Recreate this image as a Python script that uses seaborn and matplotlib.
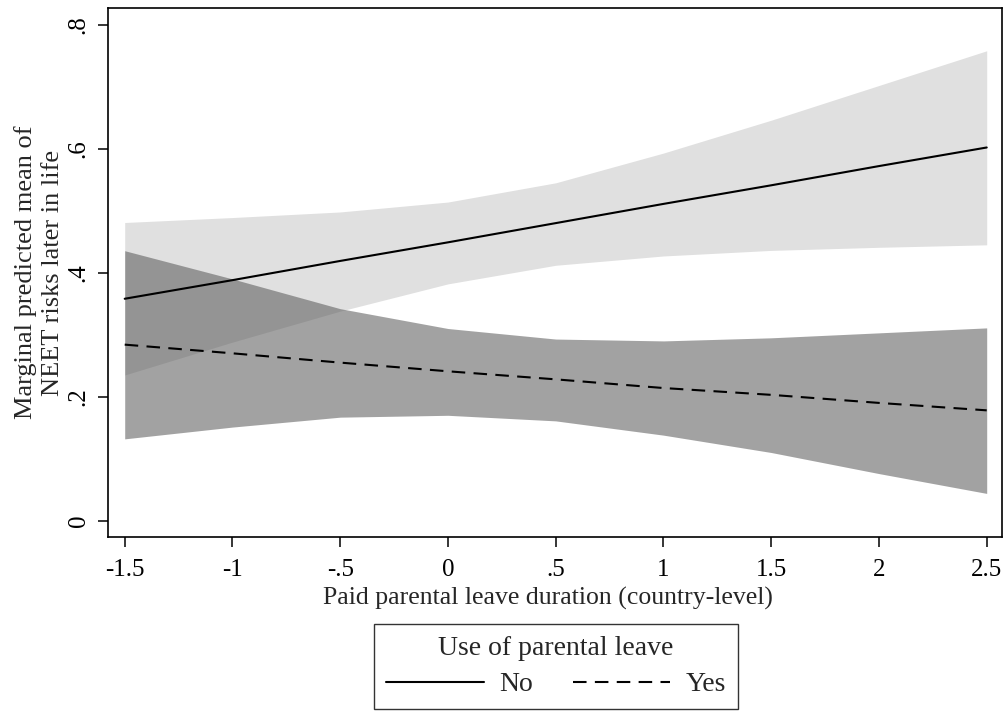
import numpy as np
import pandas as pd
import matplotlib
matplotlib.use("Agg")
import matplotlib.pyplot as plt
import seaborn as sns
from matplotlib.lines import Line2D

# ---- data ----
x_vals = [-1.5, -1.0, -0.5, 0.0, 0.5, 1.0, 1.5, 2.0, 2.5]
no_mean = [0.358, 0.388, 0.419, 0.449, 0.480, 0.511, 0.541, 0.572, 0.602]
no_lo = [0.235, 0.288, 0.338, 0.382, 0.412, 0.427, 0.436, 0.441, 0.445]
no_hi = [0.481, 0.489, 0.498, 0.514, 0.545, 0.593, 0.646, 0.702, 0.758]
yes_mean = [0.284, 0.270, 0.255, 0.241, 0.228, 0.214, 0.203, 0.190, 0.178]
yes_lo = [0.132, 0.151, 0.167, 0.170, 0.161, 0.138, 0.110, 0.076, 0.044]
yes_hi = [0.4355, 0.390, 0.342, 0.310, 0.293, 0.290, 0.295, 0.303, 0.311]
group_labels = ["No", "Yes"]
x_ticks = [-1.5, -1.0, -0.5, 0.0, 0.5, 1.0, 1.5, 2.0, 2.5]
x_ticklabels = ["-1.5", "-1", "-.5", "0", ".5", "1", "1.5", "2", "2.5"]
y_ticks = [0.0, 0.2, 0.4, 0.6, 0.8]
y_ticklabels = ["0", ".2", ".4", ".6", ".8"]
x_title = "Paid parental leave duration (country-level)"
y_title = "Marginal predicted mean of\nNEET risks later in life"
legend_title = "Use of parental leave"

df = pd.DataFrame({
    "x": x_vals * 2,
    "mean": no_mean + yes_mean,
    "lo": no_lo + yes_lo,
    "hi": no_hi + yes_hi,
    "group": [group_labels[0]] * len(x_vals) + [group_labels[1]] * len(x_vals),
})

sns.set_theme(style="ticks")
plt.rcParams["font.family"] = ["Liberation Serif", "DejaVu Serif"]
plt.rcParams["axes.edgecolor"] = "black"
plt.rcParams["axes.linewidth"] = 1.2

W, H = 1006, 713
fig = plt.figure(figsize=(W / 100, H / 100), dpi=100)
ax = fig.add_axes([108 / W, 1 - 537 / H, (1002 - 108) / W, (537 - 8) / H])

# bands
d_no = df[df.group == "No"]
d_yes = df[df.group == "Yes"]
ax.fill_between(d_no.x, d_no.lo, d_no.hi, color="#e0e0e0", lw=0, zorder=1)
ax.fill_between(d_yes.x, d_yes.lo, d_yes.hi, color="#575757", alpha=0.55, lw=0, zorder=2)

# lines
sns.lineplot(data=df, x="x", y="mean", hue="group", style="group",
             palette={"No": "black", "Yes": "black"},
             dashes={"No": "", "Yes": (6.5, 4)}, linewidth=1.5,
             legend=False, ax=ax, zorder=3)

ax.set_xlim(-1.5775, 2.571)
ax.set_ylim(-0.0263, 0.827)
ax.set_xticks(x_ticks)
ax.set_xticklabels(x_ticklabels)
ax.set_yticks(y_ticks)
ax.set_yticklabels(y_ticklabels, rotation=90, va="center")
ax.tick_params(direction="out", length=7.2, width=1.1, colors="black",
               labelsize=18)
ax.tick_params(axis="x", pad=9)
ax.tick_params(axis="y", pad=6)
for s in ax.spines.values():
    s.set_visible(True)
    s.set_linewidth(1.2)
    s.set_color("black")

ax.set_xlabel(x_title, fontsize=18.5)
ax.xaxis.set_label_coords(0.492, -0.094)
ax.set_ylabel(y_title, fontsize=19, linespacing=1.32)
ax.yaxis.set_label_coords(-0.049, 0.5)

handles = [Line2D([], [], color="black", lw=1.5),
           Line2D([], [], color="black", lw=1.5, dashes=(6.5, 4))]
leg = fig.legend(handles, group_labels, title=legend_title, ncol=2,
                 loc="upper center", bbox_to_anchor=(556 / W, 1 - 624 / H),
                 borderaxespad=0.0,
                 frameon=True, fancybox=False, edgecolor="black",
                 fontsize=20, title_fontsize=20, handlelength=3.5,
                 handletextpad=0.55, columnspacing=1.45, borderpad=0.44,
                 labelspacing=0.38)
leg.get_frame().set_linewidth(1.0)

fig.savefig("out.png", dpi=100)
